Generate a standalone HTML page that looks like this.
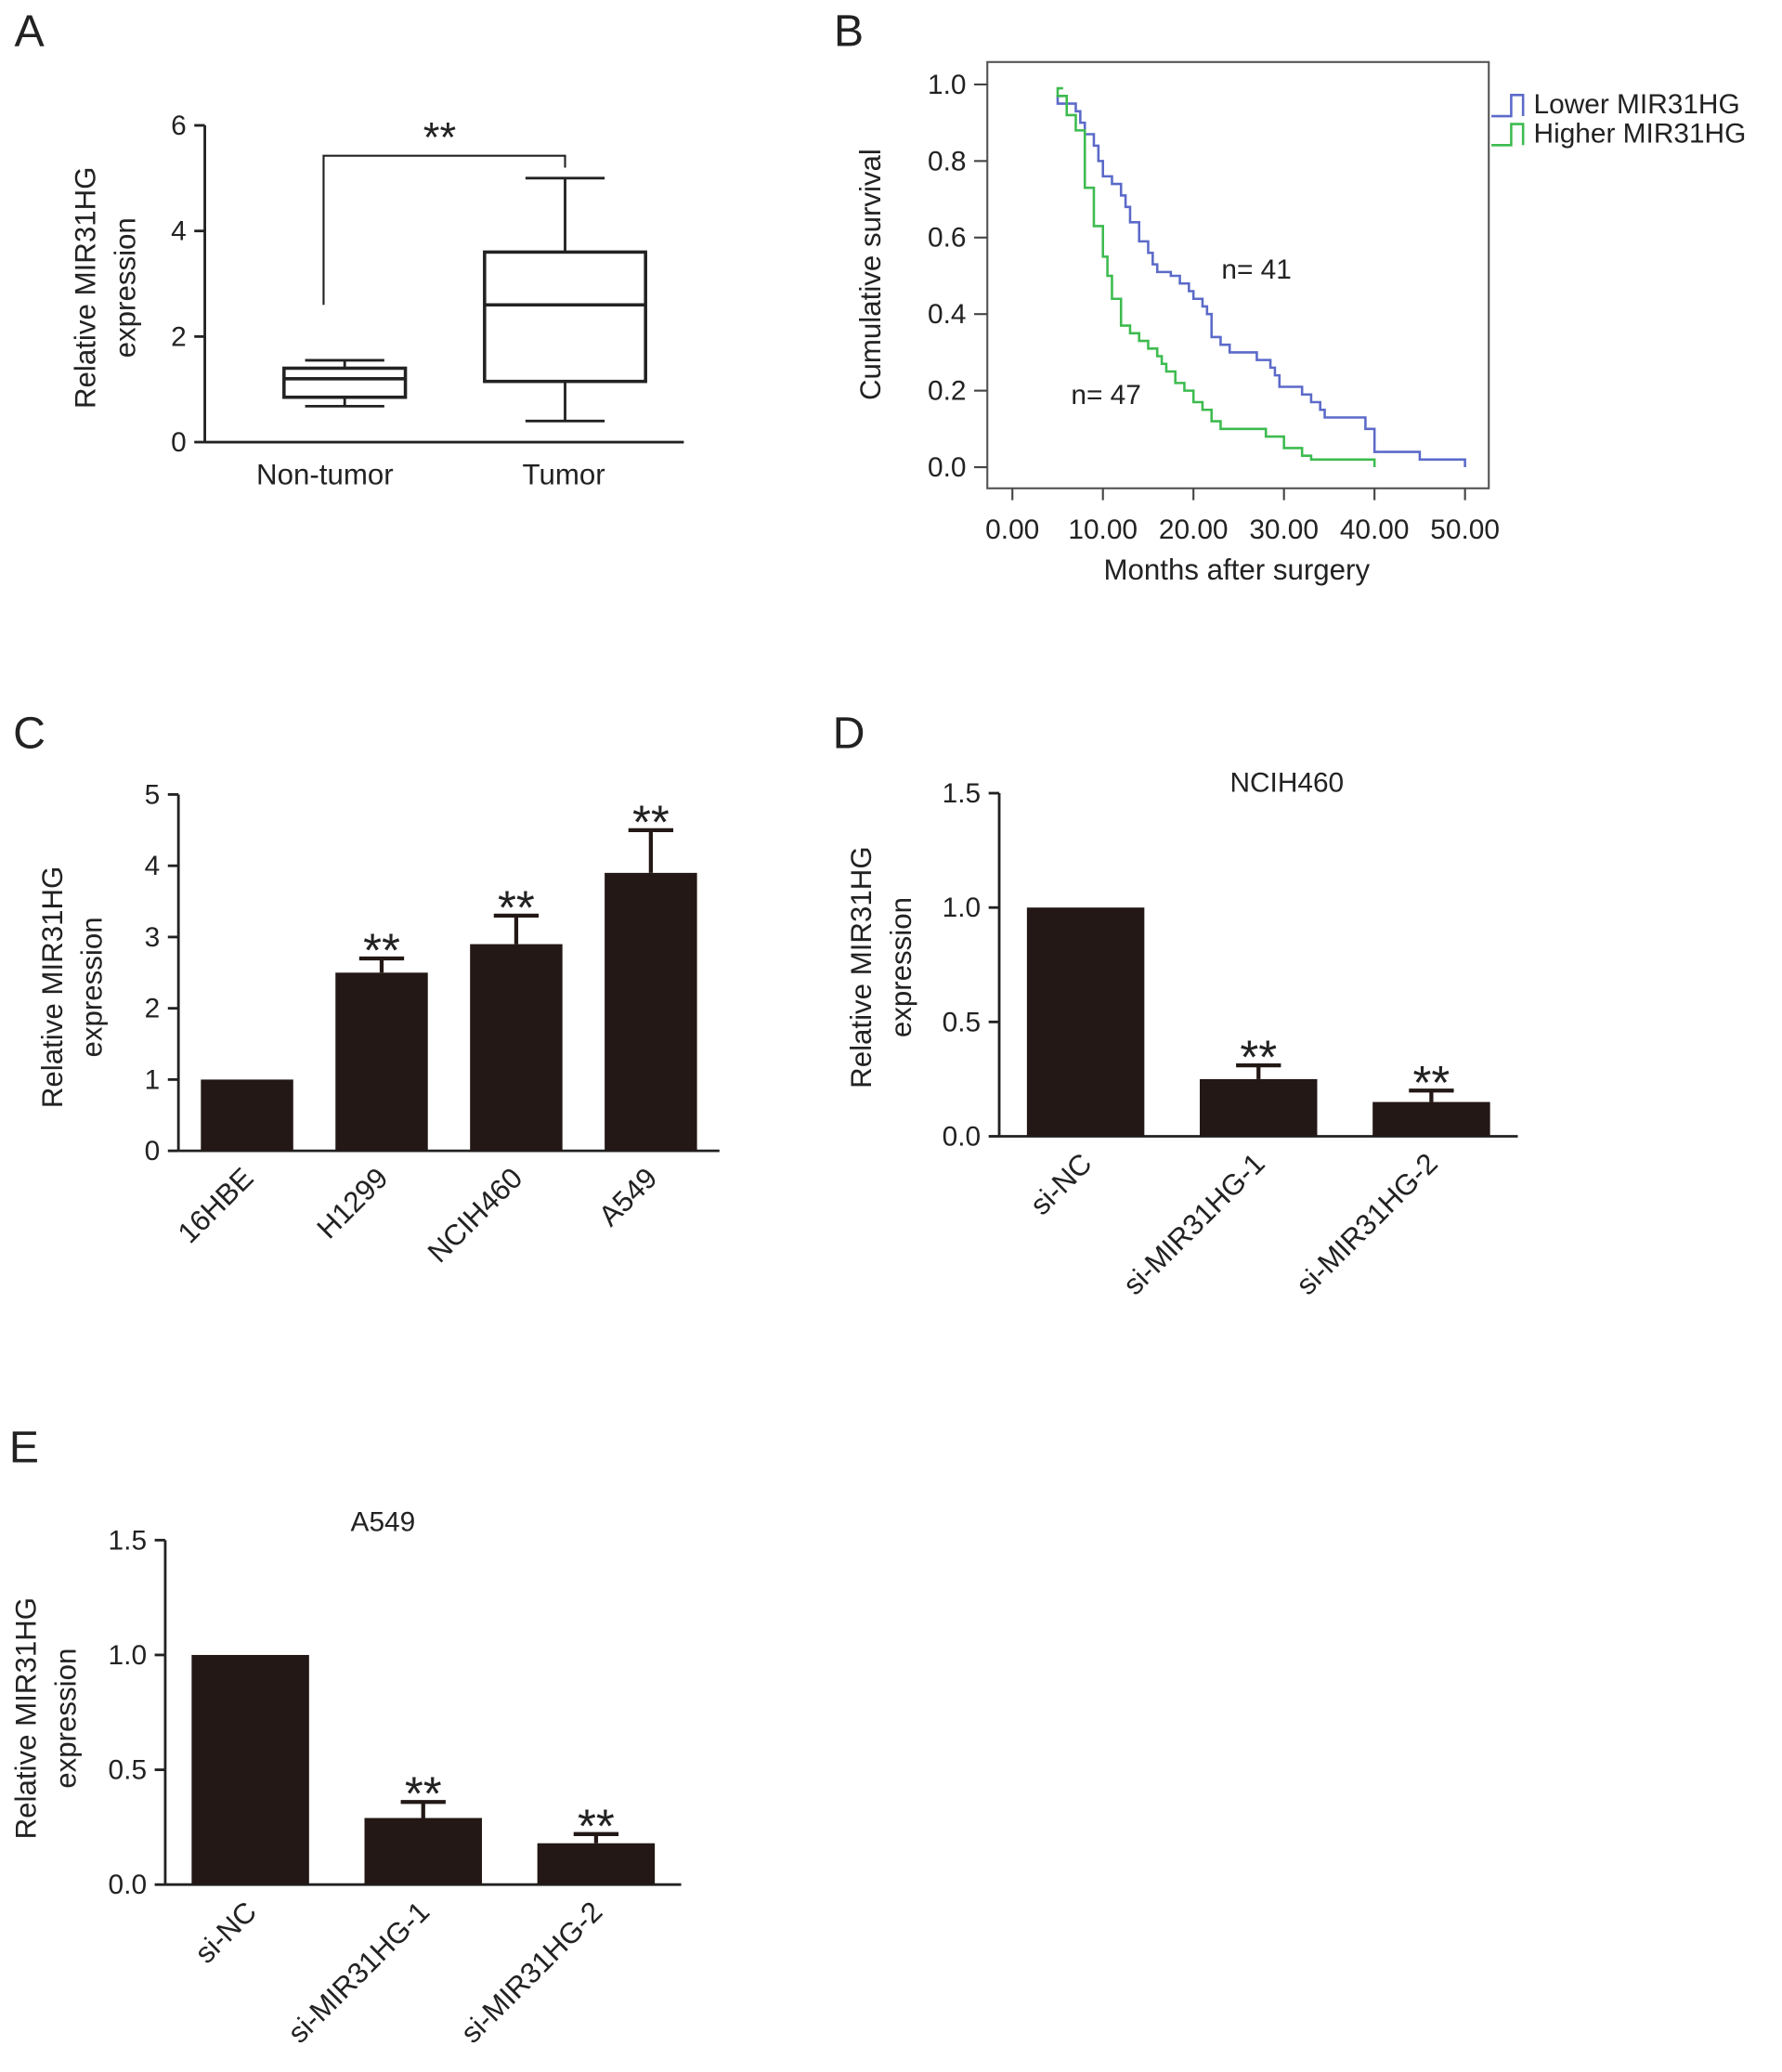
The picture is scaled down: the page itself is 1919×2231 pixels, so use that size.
<!DOCTYPE html>
<html><head><meta charset="utf-8">
<style>
html,body{margin:0;padding:0;background:#fff;}
svg{display:block;}
text{font-family:"Liberation Sans",Arial,sans-serif;fill:#222;}
</style></head>
<body>
<svg id="fig" width="1919" height="2231" viewBox="0 0 1350 1570" xmlns="http://www.w3.org/2000/svg"></svg>
<script>
// ---- Panel A data ----
const boxCats=["Non-tumor","Tumor"];
const boxMin=[0.68,0.4], boxQ1=[0.85,1.15], boxMed=[1.2,2.6], boxQ3=[1.4,3.6], boxMax=[1.55,5.0];
const aTicks=[0,2,4,6];
// ---- Panel B data ----
const lowT=[5,7,7.5,8,9,9.5,10,11,12,12.5,13,14,15,15.5,16,17.5,18.5,19.5,20,21,21.5,22,23,24,27,28.5,29,29.5,32,33,34,34.5,39,40,45,50];
const lowS=[0.95,0.93,0.9,0.87,0.84,0.8,0.76,0.74,0.71,0.68,0.64,0.59,0.56,0.53,0.51,0.5,0.48,0.46,0.44,0.42,0.4,0.34,0.32,0.3,0.28,0.26,0.24,0.21,0.19,0.17,0.15,0.13,0.1,0.04,0.02,0.01];
const hiT=[5,6,7,8,9,10,10.5,11,12,13,14,15,16,16.5,17,18,19,20,21,22,23,28,30,32,33,40];
const hiS=[0.97,0.92,0.88,0.73,0.63,0.55,0.5,0.44,0.37,0.35,0.33,0.31,0.29,0.27,0.25,0.22,0.2,0.17,0.15,0.12,0.1,0.08,0.05,0.03,0.02,0.01];
const bYTicks=[0,0.2,0.4,0.6,0.8,1.0];
const bXTicks=[0,10,20,30,40,50];
// ---- Panel C data ----
const cCats=["16HBE","H1299","NCIH460","A549"];
const cVals=[1.0,2.5,2.9,3.9];
const cErr=[0,0.2,0.4,0.6];
const cSig=["","**","**","**"];
const cTicks=[0,1,2,3,4,5];
// ---- Panel D data ----
const dCats=["si-NC","si-MIR31HG-1","si-MIR31HG-2"];
const dVals=[1.0,0.25,0.15];
const dErr=[0,0.06,0.05];
const dSig=["","**","**"];
// ---- Panel E data ----
const eCats=["si-NC","si-MIR31HG-1","si-MIR31HG-2"];
const eVals=[1.0,0.29,0.18];
const eErr=[0,0.07,0.04];
const eSig=["","**","**"];
const deTicks=[0,0.5,1.0,1.5];

const NS="http://www.w3.org/2000/svg";
const svg=document.getElementById('fig');
function el(tag,attrs,parent,txt){const e=document.createElementNS(NS,tag);for(const k in attrs)e.setAttribute(k,attrs[k]);if(txt!==undefined)e.textContent=txt;(parent||svg).appendChild(e);return e;}
function grp(name){const g=el('g',{});return g;}
function txt(g,x,y,s,size,anchor,name,extra){const t=el('text',Object.assign({x:x,y:y,'font-size':size,'text-anchor':anchor||'middle'},extra||{}),g,s);return t;}
function line(g,x1,y1,x2,y2,w,c,name){const l=el('line',{x1,y1,x2,y2,stroke:c||'#222','stroke-width':w||2},g);return l;}

[["A",22,35],["B",643,35],["C",22,567],["D",643,567],["E",18,1108]].forEach(p=>{const g=grp('panel-label-'+p[0].toLowerCase());txt(g,p[1],p[2],p[0],34,'middle','panel-letter');});

function yLabel(g,x,cy,l1,l2,size){
  txt(g,x,cy,l1,size,'middle','y-axis-title',{transform:`rotate(-90 ${x} ${cy})`});
  if(l2)txt(g,x+30,cy,l2,size,'middle','y-axis-title-line2',{transform:`rotate(-90 ${x+30} ${cy})`});
}

// ---- Panel A ----
(function(){
  const g=grp('panel-a-boxplot');
  const x0=155,x1=518,y0=335,y6=95;
  const Y=v=>y0-(v/6)*(y0-y6);
  line(g,x0,y6,x0,y0,2,'#222','y-axis');line(g,x0,y0,x1,y0,2,'#222','x-axis');
  aTicks.forEach(t=>{line(g,x0-8,Y(t),x0,Y(t),2,'#222','y-tick');txt(g,x0-14,Y(t)+7,String(t),21,'end','y-tick-label');});
  const cx=[261,428],hw=[46,61];
  boxCats.forEach((c,i)=>{
    const bg=grp('box-'+c.toLowerCase());g.appendChild(bg);
    line(bg,cx[i],Y(boxMax[i]),cx[i],Y(boxQ3[i]),2,'#222','whisker-upper');
    line(bg,cx[i],Y(boxMin[i]),cx[i],Y(boxQ1[i]),2,'#222','whisker-lower');
    line(bg,cx[i]-30,Y(boxMax[i]),cx[i]+30,Y(boxMax[i]),2,'#222','cap-max');
    line(bg,cx[i]-30,Y(boxMin[i]),cx[i]+30,Y(boxMin[i]),2,'#222','cap-min');
    const r=el('rect',{x:cx[i]-hw[i],y:Y(boxQ3[i]),width:hw[i]*2,height:Y(boxQ1[i])-Y(boxQ3[i]),fill:'#fff',stroke:'#222','stroke-width':2.5},bg);
    
    line(bg,cx[i]-hw[i],Y(boxMed[i]),cx[i]+hw[i],Y(boxMed[i]),2.5,'#222','median');
    txt(g,[246,427][i],367,c,22,'middle','x-tick-label');
  });
  const p=el('path',{d:`M245 ${Y(2.6)} V118 H428 V127`,fill:'none',stroke:'#222','stroke-width':1.5},g);
  
  txt(g,333,115,'**',32,'middle','significance-stars');
  yLabel(g,72,218,'Relative MIR31HG','expression',22);
})();

// ---- Panel B ----
(function(){
  const g=grp('panel-b-survival');
  const fx0=748,fx1=1128,fy0=47,fy1=370;
  const X=v=>767+v*(1110-767)/50, Y=v=>354-v*(354-64);
  const fr=el('rect',{x:fx0,y:fy0,width:fx1-fx0,height:fy1-fy0,fill:'none',stroke:'#555','stroke-width':1.5},g);
  
  bYTicks.forEach(t=>{line(g,fx0-10,Y(t),fx0,Y(t),1.5,'#444','y-tick');txt(g,fx0-16,Y(t)+7,t.toFixed(1),21,'end','y-tick-label');});
  bXTicks.forEach(t=>{line(g,X(t),fy1,X(t),fy1+9,1.5,'#444','x-tick');txt(g,X(t),408,t.toFixed(2),21,'middle','x-tick-label');});
  txt(g,937,439,'Months after surgery',22,'middle','x-axis-title');
  txt(g,667,208,'Cumulative survival',22,'middle','y-axis-title',{transform:'rotate(-90 667 208)'});
  function step(T,S,col,name){
    let d=`M${X(T[0])} ${Y(S[0]+0.02)} H${X(T[0]+0.6)}`;
    for(let i=0;i<T.length;i++){d+=` H${X(T[i])} V${Y(S[i])}`;}
    d+=` V${Y(Math.max(0,S[S.length-1]-0.02))}`;
    const p=el('path',{d:d,fill:'none',stroke:col,'stroke-width':1.8},g);
    
  }
  step(lowT,lowS,'#5b6ac9','lower-mir31hg-curve');
  step(hiT,hiS,'#3dbb4f','higher-mir31hg-curve');
  txt(g,952,211,'n= 41',21,'middle','n-label-lower');
  txt(g,838,306,'n= 47',21,'middle','n-label-higher');
  const lg=grp('legend');
  [['#5b6ac9','Lower MIR31HG',72],['#3dbb4f','Higher MIR31HG',94]].forEach((L,i)=>{
    const p=el('path',{d:`M1130 ${L[2]+16} H1145 V${L[2]} H1154 V${L[2]+16}`,fill:'none',stroke:L[0],'stroke-width':1.8},lg);
    
    txt(lg,1162,L[2]+14,L[1],21,'start','legend-entry');
  });
})();

function barChart(name,o){
  const g=grp(name);
  const Y=v=>o.y0-(v/o.max)*(o.y0-o.yTop);
  line(g,o.ax,o.yTop,o.ax,o.y0,2,'#222','y-axis');line(g,o.ax,o.y0,o.axEnd,o.y0,2,'#222','x-axis');
  o.ticks.forEach(t=>{line(g,o.ax-8,Y(t),o.ax,Y(t),2,'#222','y-tick');txt(g,o.ax-14,Y(t)+7,o.fmt(t),21,'end','y-tick-label');});
  o.cats.forEach((c,i)=>{
    const x=o.bx0+i*o.step,cx=x+o.bw/2;
    if(o.err[i]>0){
      line(g,cx,Y(o.vals[i]),cx,Y(o.vals[i]+o.err[i]),3,'#231815','error-bar');
      line(g,cx-17,Y(o.vals[i]+o.err[i]),cx+17,Y(o.vals[i]+o.err[i]),3,'#231815','error-cap');
    }
    const r=el('rect',{x:x,y:Y(o.vals[i]),width:o.bw,height:o.y0-Y(o.vals[i]),fill:'#231815'},g);
    
    if(o.sig[i])txt(g,cx,Y(o.vals[i]+o.err[i])+6,o.sig[i],36,'middle','significance-stars');
    const lx=cx+6,ly=o.y0+22;
    txt(g,lx,ly,c,22,'end','x-tick-label',{transform:`rotate(-45 ${lx} ${ly})`});
  });
  return g;
}
barChart('panel-c-bars',{ax:135,axEnd:545,y0:872,yTop:602,max:5,ticks:cTicks,fmt:t=>String(t),cats:cCats,vals:cVals,err:cErr,sig:cSig,bx0:152,bw:70,step:102});
yLabel(grp('panel-c-ylabel'),47,748,'Relative MIR31HG','expression',22);
barChart('panel-d-bars',{ax:757,axEnd:1150,y0:861,yTop:601,max:1.5,ticks:deTicks,fmt:t=>t.toFixed(1),cats:dCats,vals:dVals,err:dErr,sig:dSig,bx0:778,bw:89,step:131});
txt(grp('panel-d-title'),975,600,'NCIH460',21,'middle','chart-title');
yLabel(grp('panel-d-ylabel'),660,733,'Relative MIR31HG','expression',22);
barChart('panel-e-bars',{ax:125,axEnd:516,y0:1428,yTop:1167,max:1.5,ticks:deTicks,fmt:t=>t.toFixed(1),cats:eCats,vals:eVals,err:eErr,sig:eSig,bx0:145,bw:89,step:131});
txt(grp('panel-e-title'),290,1160,'A549',21,'middle','chart-title');
yLabel(grp('panel-e-ylabel'),27,1302,'Relative MIR31HG','expression',22);
</script>
</body></html>
